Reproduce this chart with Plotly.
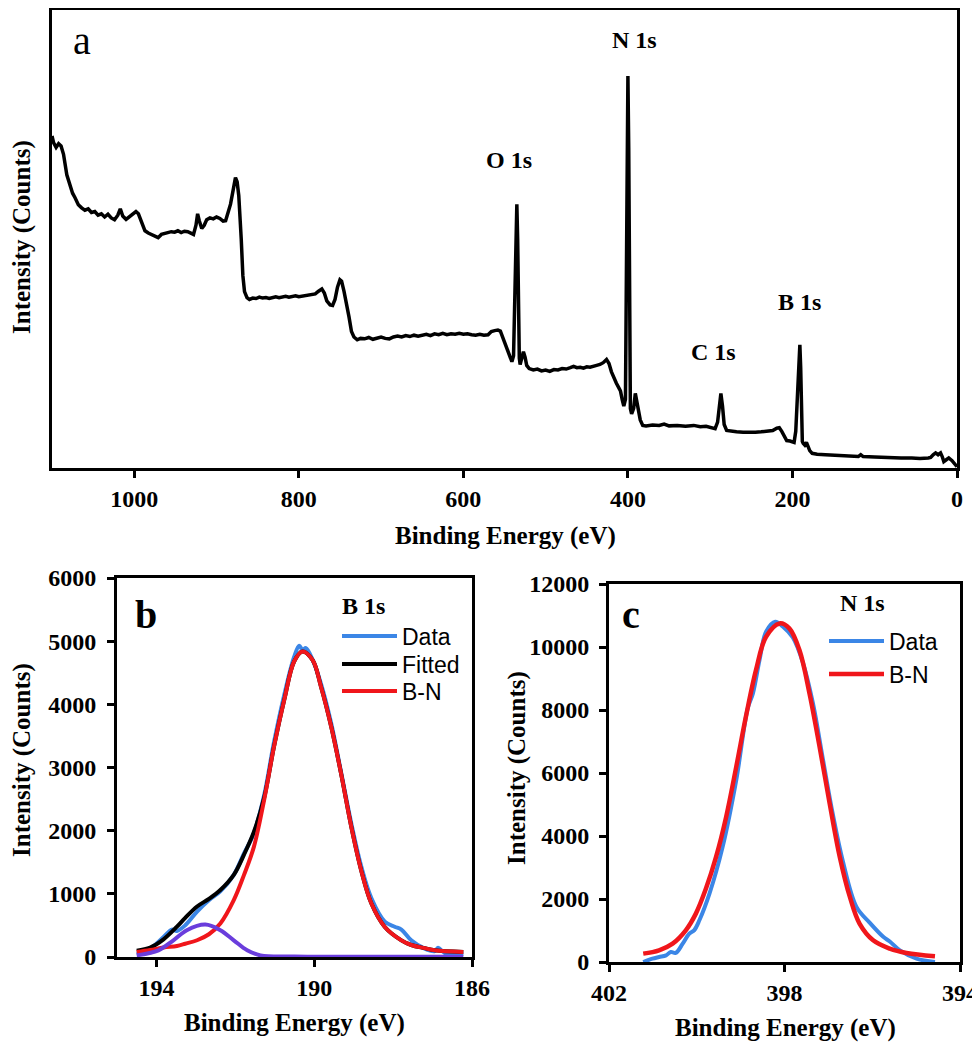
import plotly.graph_objects as go

# ---- survey spectrum (panel a), relative intensity ----
survey_be = [1100, 1098, 1095, 1092, 1089, 1086, 1082, 1078, 1075, 1072, 1068, 1064, 1060, 1056,
             1052, 1048, 1044, 1040, 1036, 1032, 1028, 1024, 1020, 1017, 1014, 1010, 1006, 1002,
             998, 995, 991, 987, 983, 979, 975, 971, 967, 963, 959, 955, 951, 947, 943, 939, 935,
             931, 928, 925, 923, 921, 918, 915, 912, 908, 904, 900, 896, 892, 889, 886, 883, 880,
             877, 875, 873, 870, 868, 866, 863, 860, 856, 852, 848, 844, 840, 836, 832, 828, 824,
             820, 816, 812, 808, 804, 800, 796, 792, 788, 784, 780, 776, 772, 769, 766, 762, 759,
             756, 753, 750, 748, 745, 742, 739, 736, 733, 729, 725, 720, 715, 710, 705, 700, 695,
             690, 685, 680, 675, 670, 665, 660, 655, 650, 645, 640, 635, 630, 625, 620, 615, 610,
             605, 600, 595, 590, 585, 580, 575, 570, 566, 562, 558, 555, 552, 549, 546, 543, 541,
             539, 538, 536, 535, 534, 533, 532, 531, 529, 527, 525, 523, 520, 515, 510, 505, 500,
             495, 490, 485, 480, 475, 470, 466, 462, 458, 454, 450, 446, 442, 438, 434, 430, 426,
             423, 420, 417, 414, 411, 409, 407, 405, 403, 402, 401, 400, 399, 398, 397, 395.5, 393,
             391, 389, 387, 385, 382, 378, 370, 362, 356, 350, 340, 330, 320, 312, 305, 298, 294,
             291, 289, 287, 285, 283, 280, 275, 268, 260, 251, 245, 238, 230, 224, 219, 216, 213,
             210, 207, 203, 200, 198, 196, 194, 192, 191, 190, 189, 188, 187, 185, 183, 181, 179,
             176, 170, 160, 150, 140, 130, 120, 117, 114, 100, 90, 80, 68, 55, 45, 35, 32, 29, 26,
             23, 20, 18, 16, 13, 10, 6, 3, 0]
survey_int = [72.5, 71.0, 70.0, 70.8, 70.3, 68.5, 64.0, 61.5, 60.0, 59.0, 57.5, 56.8, 56.3, 56.6,
              55.8, 56.0, 55.2, 55.5, 54.8, 55.4, 54.6, 54.2, 55.2, 56.6, 55.0, 54.3, 54.8, 55.3,
              56.0, 55.5, 53.8, 51.8, 51.3, 51.0, 50.8, 50.3, 51.0, 51.2, 51.4, 51.6, 51.5, 51.8,
              51.4, 51.7, 51.6, 51.2, 51.0, 53.0, 55.5, 54.0, 52.3, 53.0, 54.2, 54.6, 54.4, 54.8,
              54.5, 53.9, 54.0, 55.8, 57.6, 60.5, 63.4, 62.5, 59.5, 50.0, 42.0, 38.5, 37.2, 36.8,
              37.1, 37.0, 37.3, 37.1, 37.2, 37.0, 37.3, 37.4, 37.2, 37.4, 37.5, 37.3, 37.5, 37.6,
              37.4, 37.5, 37.6, 37.7, 37.8, 38.0, 38.6, 39.1, 38.2, 36.5, 35.6, 35.5, 36.8, 39.5,
              41.1, 40.8, 38.5, 36.0, 33.0, 29.8, 28.6, 28.0, 28.3, 28.2, 28.5, 28.1, 28.4, 28.6,
              28.3, 28.2, 28.6, 28.8, 28.6, 28.9, 28.7, 29.0, 28.8, 29.0, 29.2, 28.9, 29.3, 29.1,
              29.4, 29.1, 29.3, 29.2, 29.4, 29.2, 29.3, 29.1, 29.0, 29.2, 29.0, 29.1, 29.8, 30.0,
              30.1, 29.9, 28.5, 26.9, 25.5, 24.0, 23.2, 24.5, 35.0, 52.0, 57.6, 50.0, 33.0, 24.0,
              22.6, 23.8, 25.4, 24.2, 22.4, 21.7, 21.4, 21.6, 21.2, 21.4, 21.1, 21.5, 21.4, 21.7,
              21.6, 21.9, 22.2, 21.9, 22.0, 21.8, 22.1, 22.0, 22.3, 22.4, 22.6, 23.0, 23.7, 22.8,
              21.0, 19.5, 18.5, 17.5, 16.8, 15.0, 13.5, 15.0, 40.0, 75.0, 85.6, 70.0, 30.0, 13.0,
              11.8, 13.0, 16.3, 14.5, 11.8, 10.5, 9.3, 9.2, 9.4, 9.3, 9.6, 9.2, 9.3, 9.1, 9.3, 9.0,
              9.1, 8.8, 8.6, 10.0, 14.0, 16.3, 13.5, 9.5, 8.2, 8.0, 7.9, 7.8, 7.7, 7.8, 7.9, 8.0,
              8.2, 8.7, 8.8, 8.0, 6.8, 6.0, 5.9, 5.6, 5.6, 8.0, 16.0, 25.0, 26.9, 22.0, 10.0, 5.8,
              5.4, 5.0, 5.6, 4.8, 3.8, 3.2, 3.0, 2.9, 2.8, 2.7, 2.6, 2.5, 2.9, 2.5, 2.4, 2.3, 2.3,
              2.2, 2.2, 2.1, 2.2, 2.3, 2.9, 3.3, 2.9, 3.3, 2.5, 1.4, 1.8, 2.2, 1.6, 0.9, 0.3]

# ---- B 1s (panel b) ----
b_data_be = [194.50, 194.16, 193.82, 193.61, 193.48, 193.27, 192.97, 192.67, 192.38, 192.04,
             191.78, 191.53, 191.27, 191.02, 190.76, 190.51, 190.38, 190.30, 190.21, 190.04,
             189.83, 189.57, 189.32, 189.06, 188.81, 188.55, 188.21, 187.96, 187.79, 187.54,
             187.20, 186.94, 186.86, 186.69, 186.22]
b_data_int = [42, 132, 317, 433, 412, 502, 720, 899, 1040, 1300,
              1640, 1960, 2560, 3400, 4150, 4750, 4927, 4863, 4890, 4705,
              4330, 3700, 2930, 2115, 1440, 930, 560, 480, 433, 264,
              132, 95, 148, 63, 53]

b_fit_be = [194.50, 194.16, 193.82, 193.48, 193.27, 192.97, 192.67, 192.38, 192.04, 191.78,
            191.53, 191.27, 191.02, 190.76, 190.51, 190.30, 190.04, 189.83, 189.57, 189.32,
            189.06, 188.81, 188.55, 188.21, 187.79, 187.54, 187.20, 186.94, 186.22]
b_fit_int = [100, 150, 280, 480, 620, 800, 920, 1060, 1300, 1620,
             1980, 2520, 3330, 4070, 4678, 4837, 4700, 4282, 3648, 2907,
             2062, 1374, 846, 476, 264, 190, 140, 106, 79]
b_bn_int = [79, 110, 150, 175, 210, 265, 360, 530, 900, 1300,
            1744, 2485, 3330, 4070, 4678, 4837, 4700, 4282, 3648, 2907,
            2062, 1374, 846, 476, 264, 190, 140, 106, 79]

b_second_be = [194.50, 193.95, 193.57, 193.23, 192.76, 192.38, 192.04, 191.70, 191.36, 190.50,
               188.00, 186.22]
b_second_int = [26, 106, 264, 423, 513, 423, 264, 106, 26, 8, 5, 5]

# ---- N 1s (panel c) ----
n_data_be = [401.22, 401.01, 400.86, 400.70, 400.59, 400.48, 400.32, 400.17, 400.06, 399.94,
             399.71, 399.41, 399.10, 398.84, 398.72, 398.57, 398.42, 398.21, 398.04, 397.81,
             397.58, 397.35, 397.12, 396.90, 396.67, 396.36, 396.06, 395.75, 395.60, 395.37,
             394.99, 394.57]
n_data_int = [0, 106, 159, 212, 318, 286, 583, 900, 1006, 1324,
              2171, 3654, 5772, 8049, 8525, 9584, 10484, 10802, 10650, 10300,
              9500, 8200, 6400, 4700, 3200, 1750, 1250, 800, 650, 370,
              106, 0]

n_bn_be = [401.22, 400.86, 400.55, 400.25, 400.02, 399.79, 399.56, 399.33, 399.10, 398.88,
           398.65, 398.42, 398.11, 397.89, 397.66, 397.43, 397.20, 396.97, 396.74, 396.51,
           396.29, 395.98, 395.60, 395.22, 394.57]
n_bn_int = [265, 371, 583, 1006, 1536, 2330, 3336, 4607, 6195, 7784,
            9266, 10325, 10749, 10590, 9902, 8525, 6831, 5030, 3336, 2065,
            1218, 688, 424, 286, 180]

BLUE = "#3b86e6"
RED = "#f0161b"
PURPLE = "#6a3ddc"
SERIF = "Liberation Serif"
SANS = "Liberation Sans"

# page body has an 8px margin, so the figure is drawn 8px in from the corner
OFF = 8
W, H = 980 - OFF, 1044 - OFF


def px(x):
    return (x - OFF) / W


def py(y):
    return min(1.0, 1 - (y - OFF) / H)


fig = go.Figure()

fig.add_trace(go.Scatter(x=survey_be, y=survey_int, mode="lines", line=dict(color="black", width=3.5),
                         xaxis="x", yaxis="y", showlegend=False))

# one legend per entry so the rows can sit exactly where the reference has them
fig.add_trace(go.Scatter(x=b_data_be, y=b_data_int, mode="lines", name="Data",
                         line=dict(color=BLUE, width=4, shape="spline"), xaxis="x2", yaxis="y2",
                         legend="legend"))
fig.add_trace(go.Scatter(x=b_fit_be, y=b_fit_int, mode="lines", name="Fitted",
                         line=dict(color="black", width=4, shape="spline"), xaxis="x2", yaxis="y2",
                         legend="legend2"))
fig.add_trace(go.Scatter(x=b_fit_be, y=b_bn_int, mode="lines", name="B-N",
                         line=dict(color=RED, width=4, shape="spline"), xaxis="x2", yaxis="y2",
                         legend="legend3"))
fig.add_trace(go.Scatter(x=b_second_be, y=b_second_int, mode="lines", showlegend=False,
                         line=dict(color=PURPLE, width=4, shape="spline"), xaxis="x2", yaxis="y2"))

fig.add_trace(go.Scatter(x=n_data_be, y=n_data_int, mode="lines", name="Data",
                         line=dict(color=BLUE, width=4, shape="spline"), xaxis="x3", yaxis="y3",
                         legend="legend4"))
fig.add_trace(go.Scatter(x=n_bn_be, y=n_bn_int, mode="lines", name="B-N",
                         line=dict(color=RED, width=4.5, shape="spline"), xaxis="x3", yaxis="y3",
                         legend="legend5"))

tickfont = dict(family=SERIF, size=24, color="black", weight="bold")
common = dict(showline=True, linewidth=3, linecolor="black", mirror=True, showgrid=False,
              zeroline=False, ticks="outside", ticklen=7, tickwidth=3, tickcolor="black",
              tickfont=tickfont, automargin=False, tickformat="d")


def leg(x, y):
    return dict(x=px(x), y=py(y), xanchor="left", yanchor="middle", bgcolor="rgba(0,0,0,0)",
                font=dict(family=SANS, size=23, color="black"), itemwidth=55)


fig.update_layout(
    template="none",
    width=W, height=H, margin=dict(l=0, r=0, t=0, b=0, pad=0), autosize=False,
    paper_bgcolor="white", plot_bgcolor="white",
    xaxis=dict(domain=[px(52), px(957)], range=[1100, 0], tickvals=[1000, 800, 600, 400, 200, 0],
               anchor="y", **common),
    yaxis=dict(domain=[py(468), py(10)], range=[0, 100], anchor="x",
               **{**common, "ticks": "", "showticklabels": False}),
    xaxis2=dict(domain=[px(117), px(472)], range=[195, 186], tickvals=[194, 190, 186],
                anchor="y2", **common),
    yaxis2=dict(domain=[py(957), py(578)], range=[0, 6000], dtick=1000, anchor="x2",
                ticklabelstandoff=6, **common),
    xaxis3=dict(domain=[px(609), px(960)], range=[402, 394], tickvals=[402, 398, 394],
                anchor="y3", **common),
    yaxis3=dict(domain=[py(962), py(584)], range=[0, 12000], dtick=2000, anchor="x3",
                ticklabelstandoff=5, **common),
    legend=leg(337, 636),
    legend2=leg(337, 664),
    legend3=leg(337, 691),
    legend4=leg(824, 641),
    legend5=leg(824, 674),
)

bold = dict(family=SERIF, size=24, color="black", weight="bold")
title_font = dict(family=SERIF, size=25, color="black", weight="bold")
notes = [
    ("a", 82, 40, dict(family=SERIF, size=40, color="black"), 0),
    ("O 1s", 509, 160, bold, 0),
    ("N 1s", 634, 40, bold, 0),
    ("C 1s", 713, 352, bold, 0),
    ("B 1s", 799, 302, bold, 0),
    ("Binding Energy (eV)", 505, 536, title_font, 0),
    ("Intensity (Counts)", 22, 237, title_font, -90),
    ("b", 146, 614, dict(family=SERIF, size=40, color="black", weight="bold"), 0),
    ("B 1s", 363, 606, bold, 0),
    ("Binding Energy (eV)", 294, 1023, title_font, 0),
    ("Intensity (Counts)", 22, 760, title_font, -90),
    ("c", 631, 614, dict(family=SERIF, size=40, color="black", weight="bold"), 0),
    ("N 1s", 862, 603, bold, 0),
    ("Binding Energy (eV)", 785, 1028, title_font, 0),
    ("Intensity (Counts)", 517, 768, title_font, -90),
]
for text, x, y, font, angle in notes:
    fig.add_annotation(text=text, x=px(x), y=py(y), xref="paper", yref="paper",
                       xanchor="center", yanchor="middle", showarrow=False, font=font,
                       textangle=angle)

fig.write_html("out.html")
